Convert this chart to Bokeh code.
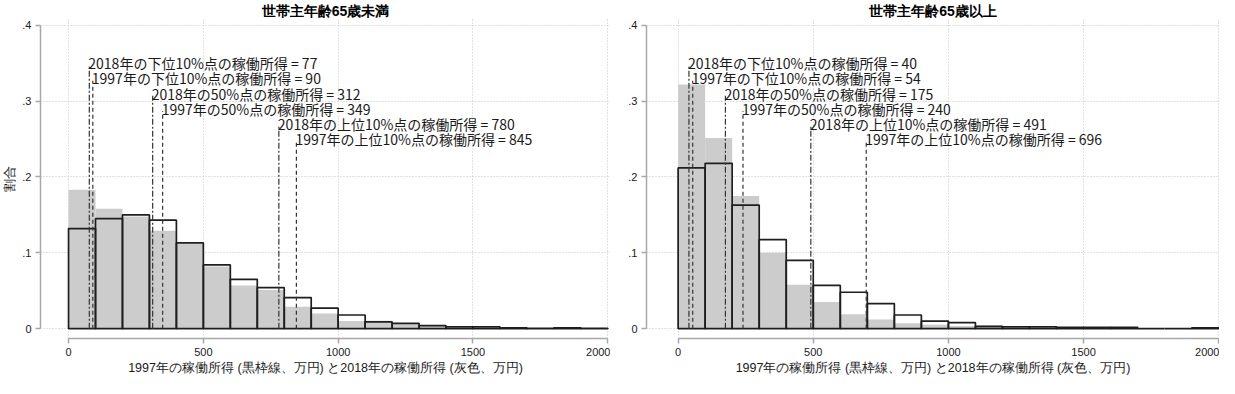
from bokeh.plotting import figure
from bokeh.layouts import row
from bokeh.models import ColumnDataSource, CustomJSTickFormatter, FixedTicker, Range1d
from bokeh.core.properties import value
from bokeh.embed import file_html
from bokeh.resources import INLINE

# ---------------- data ----------------
bin_left = [0, 100, 200, 300, 400, 500, 600, 700, 800, 900,
            1000, 1100, 1200, 1300, 1400, 1500, 1600, 1700, 1800, 1900]
bin_width = 100

under65_1997 = [0.132, 0.145, 0.150, 0.143, 0.113, 0.084, 0.065, 0.054, 0.041, 0.027,
                0.018, 0.009, 0.007, 0.004, 0.0025, 0.0025, 0.001, 0.0005, 0.001, 0.0005]
under65_2018 = [0.183, 0.158, 0.148, 0.129, 0.112, 0.082, 0.057, 0.051, 0.029, 0.020,
                0.010, 0.0105, 0.006, 0.004, 0.0035, 0.0035, 0.001, 0.0005, 0.0005, 0.0005]

over65_1997 = [0.212, 0.218, 0.163, 0.1175, 0.090, 0.057, 0.048, 0.033, 0.018, 0.010,
               0.008, 0.003, 0.0025, 0.0025, 0.0017, 0.0017, 0.0017, 0.0, 0.0, 0.001]
over65_2018 = [0.322, 0.2515, 0.175, 0.100, 0.058, 0.035, 0.019, 0.012, 0.007, 0.005,
               0.0035, 0.004, 0.002, 0.002, 0.001, 0.001, 0.001, 0.001, 0.0, 0.0]

quantile_names = ["2018年の下位10%点", "1997年の下位10%点", "2018年の50%点",
                  "1997年の50%点", "2018年の上位10%点", "1997年の上位10%点"]
quantile_years = ["2018", "1997", "2018", "1997", "2018", "1997"]
under65_quantiles = [77, 90, 312, 349, 780, 845]
over65_quantiles = [40, 54, 175, 240, 491, 696]

titles = ["世帯主年齢65歳未満", "世帯主年齢65歳以上"]
x_label = "1997年の稼働所得 (黒枠線、万円) と2018年の稼働所得 (灰色、万円)"
y_label = "割合"
x_ticks = [0, 500, 1000, 1500, 2000]
y_ticks = [0, 0.1, 0.2, 0.3, 0.4]

# ---------------- styling ----------------
JP = "Noto Sans CJK JP"
NUM = "Liberation Sans"
AXIS_GRAY = "#a8a8a8"
GRID_GRAY = "#c4c4c4"
TEXT = "#1a1a1a"
BAR_GRAY = "#cccccc"


def make_panel(title, h1997, h2018, qvals, width, show_ylabel, title_offset,
               border_left, x_start, x_end):
    p = figure(width=width, height=377, output_backend="svg", toolbar_location=None,
               x_range=Range1d(x_start, x_end), y_range=Range1d(-0.013, 0.409),
               min_border_left=border_left, min_border_right=0, min_border_top=0,
               min_border_bottom=0)
    p.outline_line_color = None
    p.background_fill_color = "white"
    p.border_fill_color = "white"

    p.title.text = title
    p.title.align = "center"
    p.title.offset = title_offset
    p.title.text_font = NUM
    p.title.text_font_size = "14px"
    p.title.text_font_style = "bold"
    p.title.text_color = "black"
    p.title.text_line_height = 0.9
    p.title.standoff = 0

    right = [b + bin_width for b in bin_left]
    src = ColumnDataSource(dict(left=bin_left, right=right, h97=h1997, h18=h2018))
    p.quad(left="left", right="right", bottom=0, top="h18", source=src,
           fill_color=BAR_GRAY, line_color=None)
    p.quad(left="left", right="right", bottom=0, top="h97", source=src,
           fill_color=None, line_color="#1e1e1e", line_width=1.7)

    labels = [f"{n}の稼働所得 = {v}" for n, v in zip(quantile_names, qvals)]
    label_y = [0.35 - 0.02 * i for i in range(len(qvals))]
    for yr, dash in (("2018", "6 2 2 2"), ("1997", "4 3")):
        xs = [v for v, y in zip(qvals, quantile_years) if y == yr]
        ys = [ly - 0.003 for ly, y in zip(label_y, quantile_years) if y == yr]
        p.segment(x0=xs, y0=[0] * len(xs), x1=xs, y1=ys, line_color="#333333",
                  line_width=1.2, line_dash=value(dash))
    p.text(x=qvals, y=label_y, text=labels, text_font=value(JP), text_font_size="14px",
           text_baseline="middle", text_align="left", text_color=TEXT, x_offset=-1)

    # axes
    p.xaxis.ticker = FixedTicker(ticks=x_ticks)
    p.yaxis.ticker = FixedTicker(ticks=y_ticks)
    p.xaxis.bounds = (0, 2000)
    p.yaxis.bounds = (0, 0.4)
    p.yaxis.formatter = CustomJSTickFormatter(
        code="return tick == 0 ? '0' : tick.toFixed(1).replace(/^0/, '');")
    for ax in (p.xaxis[0], p.yaxis[0]):
        ax.axis_line_color = AXIS_GRAY
        ax.axis_line_width = 1.5
        ax.major_tick_line_color = AXIS_GRAY
        ax.major_tick_line_width = 1.5
        ax.major_tick_out = 5
        ax.major_tick_in = 0
        ax.minor_tick_line_color = None
        ax.major_label_text_font = NUM
        ax.major_label_text_font_size = "11px"
        ax.major_label_text_color = TEXT
        ax.major_label_text_line_height = 0.9
        ax.major_label_standoff = 4
        ax.axis_label_text_font = NUM
        ax.axis_label_text_font_size = "12.5px"
        ax.axis_label_text_font_style = "normal"
        ax.axis_label_text_color = TEXT
        ax.axis_label_text_line_height = 0.9
        ax.axis_label_standoff = 2
    p.yaxis.major_label_orientation = "horizontal"
    p.xaxis.axis_label = x_label
    if show_ylabel:
        p.yaxis.axis_label = y_label

    for g in (p.xgrid[0], p.ygrid[0]):
        g.grid_line_color = GRID_GRAY
        g.grid_line_dash = "1 2"
        g.grid_line_width = 1
    p.xgrid.ticker = FixedTicker(ticks=x_ticks)
    p.ygrid.ticker = FixedTicker(ticks=y_ticks)
    return p


p1 = make_panel(titles[0], under65_1997, under65_2018, under65_quantiles, 610, True,
                -28, 37, -104, 2010)
p2 = make_panel(titles[1], over65_1997, over65_2018, over65_quantiles, 609, False,
                -10, 36, -117, 2003)

layout = row(p1, p2)
open("out.html", "w").write(file_html(layout, INLINE))
